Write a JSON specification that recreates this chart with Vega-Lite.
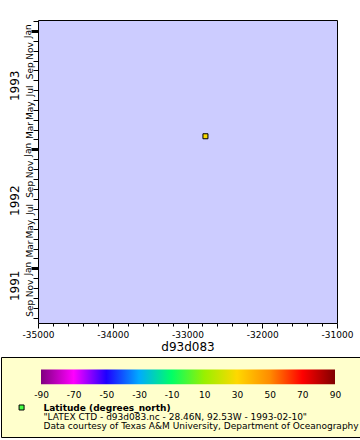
{
  "$schema": "https://vega.github.io/schema/vega-lite/v6.json",
  "padding": {"left": 0, "top": 19, "right": 0, "bottom": 0},
  "spacing": 3,
  "config": {
    "font": "DejaVu Sans",
    "view": {"stroke": null},
    "axis": {"labelColor": "black", "tickColor": "black", "titleColor": "black", "labelFlush": false, "labelOverlap": false, "labelBound": false, "grid": false, "domain": false}
  },
  "datasets": {
    "station": [{"d93d083": -32760, "time": "1993-02-10", "latitude": 28.46}],
    "caption": [
      {"line": 1, "text": "Latitude (degrees_north)"},
      {"line": 2, "text": "\"LATEX CTD - d93d083.nc - 28.46N, 92.53W - 1993-02-10\""},
      {"line": 3, "text": "Data courtesy of Texas A&M University, Department of Oceanography"}
    ]
  },
  "vconcat": [
    {
      "spacing": 0,
      "hconcat": [
        {
          "width": 1,
          "height": 303,
          "data": {"values": []},
          "mark": "point"
        },
        {
          "width": 299,
          "height": 303,
          "view": {"fill": "#ccccff", "stroke": "black", "strokeWidth": 1},
          "data": {"name": "station"},
          "layer": [
            {
              "mark": {"type": "square", "size": 25, "stroke": "black", "strokeWidth": 1, "opacity": 1},
              "encoding": {
                "x": {
                  "field": "d93d083", "type": "quantitative",
                  "scale": {"domain": [-35000, -31000], "nice": false, "zero": false},
                  "axis": {
                    "title": "d93d083",
                    "values": [-35000, -34800, -34600, -34400, -34200, -34000, -33800, -33600, -33400, -33200, -33000, -32800, -32600, -32400, -32200, -32000, -31800, -31600, -31400, -31200, -31000],
                    "labelExpr": "datum.value % 1000 == 0 ? '' + datum.value : ''",
                    "labelOverlap": false,
                    "tickSize": {"condition": {"test": "datum.value % 1000 == 0", "value": 5}, "value": 3},
                    "labelFontSize": 9, "labelPadding": 2.5,
                    "titleFontSize": 12, "titleFontWeight": "normal", "titlePadding": 2
                  }
                },
                "y": {
                  "field": "time", "type": "temporal",
                  "scale": {"type": "utc", "nice": false, "domain": [{"year": 1991, "month": 7, "date": 16, "utc": true}, {"year": 1994, "month": 2, "date": 3, "utc": true}]},
                  "axis": {
                    "orient": "left", "title": null,
                    "values": [
                      {"year": 1991, "month": 8, "date": 1, "utc": true}, {"year": 1991, "month": 9, "date": 1, "utc": true}, {"year": 1991, "month": 10, "date": 1, "utc": true}, {"year": 1991, "month": 11, "date": 1, "utc": true}, {"year": 1991, "month": 12, "date": 1, "utc": true},
                      {"year": 1992, "month": 1, "date": 1, "utc": true}, {"year": 1992, "month": 2, "date": 1, "utc": true}, {"year": 1992, "month": 3, "date": 1, "utc": true}, {"year": 1992, "month": 4, "date": 1, "utc": true}, {"year": 1992, "month": 5, "date": 1, "utc": true}, {"year": 1992, "month": 6, "date": 1, "utc": true},
                      {"year": 1992, "month": 7, "date": 1, "utc": true}, {"year": 1992, "month": 8, "date": 1, "utc": true}, {"year": 1992, "month": 9, "date": 1, "utc": true}, {"year": 1992, "month": 10, "date": 1, "utc": true}, {"year": 1992, "month": 11, "date": 1, "utc": true}, {"year": 1992, "month": 12, "date": 1, "utc": true},
                      {"year": 1993, "month": 1, "date": 1, "utc": true}, {"year": 1993, "month": 2, "date": 1, "utc": true}, {"year": 1993, "month": 3, "date": 1, "utc": true}, {"year": 1993, "month": 4, "date": 1, "utc": true}, {"year": 1993, "month": 5, "date": 1, "utc": true}, {"year": 1993, "month": 6, "date": 1, "utc": true},
                      {"year": 1993, "month": 7, "date": 1, "utc": true}, {"year": 1993, "month": 8, "date": 1, "utc": true}, {"year": 1993, "month": 9, "date": 1, "utc": true}, {"year": 1993, "month": 10, "date": 1, "utc": true}, {"year": 1993, "month": 11, "date": 1, "utc": true}, {"year": 1993, "month": 12, "date": 1, "utc": true},
                      {"year": 1994, "month": 1, "date": 1, "utc": true}, {"year": 1994, "month": 2, "date": 1, "utc": true}
                    ],
                    "labelExpr": "utcmonth(datum.value) % 2 == 0 ? utcFormat(datum.value, '%b') : ''",
                    "labelOverlap": false,
                    "labelAngle": -90, "labelAlign": "center", "labelBaseline": "alphabetic",
                    "labelFontSize": 9, "labelPadding": 0.5,
                    "tickSize": {"condition": {"test": "utcmonth(datum.value) == 0", "value": 7}, "value": 5},
                    "tickWidth": {"condition": {"test": "utcmonth(datum.value) == 0", "value": 3}, "value": 1}
                  }
                },
                "color": {
                  "field": "latitude", "type": "quantitative",
                  "scale": {"domain": [-90, -70, -50, -30, -10, 10, 30, 50, 70, 90], "range": ["#800080", "#ff00ff", "#1e00ff", "#00aaff", "#00ff66", "#99f000", "#ffd800", "#ff8c00", "#ff0000", "#800000"]},
                  "legend": null
                }
              }
            },
            {
              "mark": {"type": "point", "opacity": 0},
              "encoding": {
                "y": {
                  "field": "time", "type": "temporal",
                  "axis": {
                    "orient": "left", "title": null,
                    "values": [{"year": 1991, "month": 11, "date": 9, "utc": true}, {"year": 1992, "month": 7, "date": 28, "utc": true}, {"year": 1993, "month": 7, "date": 17, "utc": true}],
                    "labelExpr": "utcFormat(datum.value, '%Y')",
                    "labelOverlap": false,
                    "labelAngle": -90, "labelAlign": "center", "labelBaseline": "alphabetic",
                    "labelFontSize": 12, "ticks": false, "tickSize": 0, "labelPadding": 0,
                    "offset": 19.5, "minExtent": 16
                  }
                }
              }
            }
          ],
          "resolve": {"axis": {"y": "independent"}}
        }
      ]
    },
    {
      "width": 359,
      "height": 80,
      "view": {"fill": "#ffffcc", "stroke": "black", "strokeWidth": 1},
      "layer": [
        {
          "data": {"values": [{"lat_min": -90, "lat_max": 90}]},
          "mark": {"type": "rect", "fill": {"gradient": "linear", "x1": 0, "y1": 0, "x2": 1, "y2": 0, "stops": [
            {"offset": 0, "color": "#800080"}, {"offset": 0.1111, "color": "#ff00ff"}, {"offset": 0.2222, "color": "#1e00ff"},
            {"offset": 0.3333, "color": "#00aaff"}, {"offset": 0.4444, "color": "#00ff66"}, {"offset": 0.5556, "color": "#99f000"},
            {"offset": 0.6667, "color": "#ffd800"}, {"offset": 0.7778, "color": "#ff8c00"}, {"offset": 0.8889, "color": "#ff0000"},
            {"offset": 1, "color": "#800000"}]}},
          "encoding": {
            "x": {
              "field": "lat_min", "type": "quantitative",
              "scale": {"domain": [-90, 90], "range": [40, 334], "nice": false, "zero": false},
              "axis": {"title": null, "values": [-90, -70, -50, -30, -10, 10, 30, 50, 70, 90], "labelExpr": "'' + datum.value", "labelOverlap": false, "ticks": false, "tickSize": 0, "offset": -52.8, "labelPadding": 6.5, "labelFontSize": 9}
            },
            "x2": {"field": "lat_max"},
            "y": {"datum": -3.61, "type": "quantitative", "scale": {"domain": [-5, 3.889], "reverse": true, "nice": false, "zero": false}, "axis": null},
            "y2": {"datum": -1.98}
          }
        },
        {
          "data": {"name": "caption"},
          "transform": [{"filter": "datum.line == 1"}],
          "mark": {"type": "square", "size": 25, "fill": "#44ff44", "stroke": "black", "strokeWidth": 1, "opacity": 1},
          "encoding": {
            "x": {"datum": -101.9, "type": "quantitative", "axis": null},
            "y": {"datum": 0.61, "type": "quantitative", "axis": null}
          }
        },
        {
          "data": {"name": "caption"},
          "transform": [{"filter": "datum.line == 1"}],
          "mark": {"type": "text", "align": "left", "baseline": "alphabetic", "fontSize": 9, "fontWeight": "bold", "color": "black"},
          "encoding": {
            "x": {"datum": -88.5, "type": "quantitative", "axis": null},
            "y": {"field": "line", "type": "quantitative", "axis": null},
            "text": {"field": "text"}
          }
        },
        {
          "data": {"name": "caption"},
          "transform": [{"filter": "datum.line > 1"}],
          "mark": {"type": "text", "align": "left", "baseline": "alphabetic", "fontSize": 9, "color": "black"},
          "encoding": {
            "x": {"datum": -88.5, "type": "quantitative", "axis": null},
            "y": {"field": "line", "type": "quantitative", "axis": null},
            "text": {"field": "text"}
          }
        }
      ],
      "resolve": {"axis": {"x": "independent"}}
    }
  ]
}
